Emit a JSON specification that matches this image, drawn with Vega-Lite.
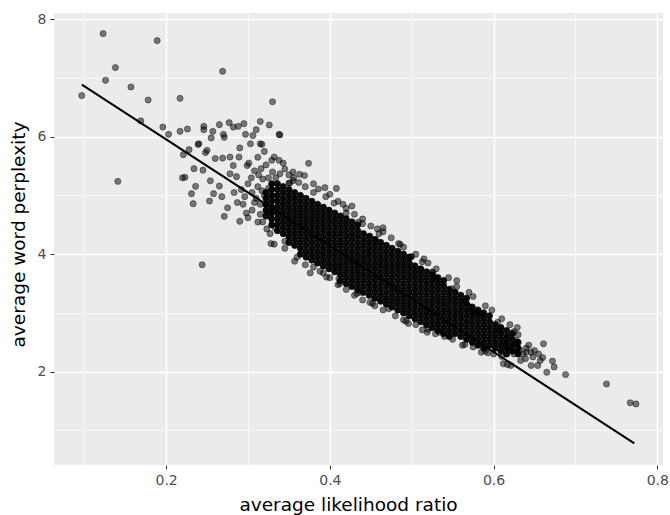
{
"$schema": "https://vega.github.io/schema/vega-lite/v6.json",
"width": 609,
"height": 452,
"autosize": {"type": "none"},
"padding": {"left": 54, "top": 13, "right": 8, "bottom": 50},
"background": "white",
"config": {
  "view": {"fill": "#EBEBEB", "stroke": null},
  "axis": {"domain": false, "grid": true, "gridColor": "#FFFFFF", "tickColor": "#333333", "tickWidth": 1, "tickSize": 4, "labelColor": "#4D4D4D", "labelFont": "DejaVu Sans", "labelFontSize": 14, "labelPadding": 4, "titleFont": "DejaVu Sans", "titleFontSize": 18.5, "titleFontWeight": "normal", "titleColor": "#000000", "labelFlush": false, "labelOverlap": false, "labelBound": false}
},
"datasets": {
"dense": [
{"x":0.322,"y":4.65},{"x":0.322,"y":4.75},{"x":0.322,"y":4.85},{"x":0.322,"y":4.95},{"x":0.322,"y":5.05},
{"x":0.329,"y":4.5},{"x":0.329,"y":4.6},{"x":0.329,"y":4.7},{"x":0.329,"y":4.8},{"x":0.329,"y":4.9},{"x":0.329,"y":5.0},{"x":0.329,"y":5.1},{"x":0.329,"y":5.2},
{"x":0.336,"y":4.4},{"x":0.336,"y":4.5},{"x":0.336,"y":4.6},{"x":0.336,"y":4.7},{"x":0.336,"y":4.8},{"x":0.336,"y":4.9},{"x":0.336,"y":5.0},{"x":0.336,"y":5.1},{"x":0.336,"y":5.2},
{"x":0.343,"y":4.35},{"x":0.343,"y":4.45},{"x":0.343,"y":4.55},{"x":0.343,"y":4.65},{"x":0.343,"y":4.75},{"x":0.343,"y":4.85},{"x":0.343,"y":4.95},{"x":0.343,"y":5.05},{"x":0.343,"y":5.15},
{"x":0.350,"y":4.2},{"x":0.350,"y":4.3},{"x":0.350,"y":4.4},{"x":0.350,"y":4.5},{"x":0.350,"y":4.6},{"x":0.350,"y":4.7},{"x":0.350,"y":4.8},{"x":0.350,"y":4.9},{"x":0.350,"y":5.0},{"x":0.350,"y":5.1},
{"x":0.357,"y":4.15},{"x":0.357,"y":4.25},{"x":0.357,"y":4.35},{"x":0.357,"y":4.45},{"x":0.357,"y":4.55},{"x":0.357,"y":4.65},{"x":0.357,"y":4.75},{"x":0.357,"y":4.85},{"x":0.357,"y":4.95},{"x":0.357,"y":5.05},
{"x":0.364,"y":4.0},{"x":0.364,"y":4.1},{"x":0.364,"y":4.2},{"x":0.364,"y":4.3},{"x":0.364,"y":4.4},{"x":0.364,"y":4.5},{"x":0.364,"y":4.6},{"x":0.364,"y":4.7},{"x":0.364,"y":4.8},{"x":0.364,"y":4.9},{"x":0.364,"y":5.0},
{"x":0.371,"y":3.95},{"x":0.371,"y":4.05},{"x":0.371,"y":4.15},{"x":0.371,"y":4.25},{"x":0.371,"y":4.35},{"x":0.371,"y":4.45},{"x":0.371,"y":4.55},{"x":0.371,"y":4.65},{"x":0.371,"y":4.75},{"x":0.371,"y":4.85},{"x":0.371,"y":4.95},
{"x":0.378,"y":3.9},{"x":0.378,"y":4.0},{"x":0.378,"y":4.1},{"x":0.378,"y":4.2},{"x":0.378,"y":4.3},{"x":0.378,"y":4.4},{"x":0.378,"y":4.5},{"x":0.378,"y":4.6},{"x":0.378,"y":4.7},{"x":0.378,"y":4.8},{"x":0.378,"y":4.9},
{"x":0.385,"y":3.85},{"x":0.385,"y":3.95},{"x":0.385,"y":4.05},{"x":0.385,"y":4.15},{"x":0.385,"y":4.25},{"x":0.385,"y":4.35},{"x":0.385,"y":4.45},{"x":0.385,"y":4.55},{"x":0.385,"y":4.65},{"x":0.385,"y":4.75},{"x":0.385,"y":4.85},
{"x":0.392,"y":3.8},{"x":0.392,"y":3.9},{"x":0.392,"y":4.0},{"x":0.392,"y":4.1},{"x":0.392,"y":4.2},{"x":0.392,"y":4.3},{"x":0.392,"y":4.4},{"x":0.392,"y":4.5},{"x":0.392,"y":4.6},{"x":0.392,"y":4.7},{"x":0.392,"y":4.8},
{"x":0.399,"y":3.75},{"x":0.399,"y":3.85},{"x":0.399,"y":3.95},{"x":0.399,"y":4.05},{"x":0.399,"y":4.15},{"x":0.399,"y":4.25},{"x":0.399,"y":4.35},{"x":0.399,"y":4.45},{"x":0.399,"y":4.55},{"x":0.399,"y":4.65},{"x":0.399,"y":4.75},
{"x":0.406,"y":3.7},{"x":0.406,"y":3.8},{"x":0.406,"y":3.9},{"x":0.406,"y":4.0},{"x":0.406,"y":4.1},{"x":0.406,"y":4.2},{"x":0.406,"y":4.3},{"x":0.406,"y":4.4},{"x":0.406,"y":4.5},{"x":0.406,"y":4.6},{"x":0.406,"y":4.7},
{"x":0.413,"y":3.55},{"x":0.413,"y":3.65},{"x":0.413,"y":3.75},{"x":0.413,"y":3.85},{"x":0.413,"y":3.95},{"x":0.413,"y":4.05},{"x":0.413,"y":4.15},{"x":0.413,"y":4.25},{"x":0.413,"y":4.35},{"x":0.413,"y":4.45},{"x":0.413,"y":4.55},{"x":0.413,"y":4.65},
{"x":0.420,"y":3.5},{"x":0.420,"y":3.6},{"x":0.420,"y":3.7},{"x":0.420,"y":3.8},{"x":0.420,"y":3.9},{"x":0.420,"y":4.0},{"x":0.420,"y":4.1},{"x":0.420,"y":4.2},{"x":0.420,"y":4.3},{"x":0.420,"y":4.4},{"x":0.420,"y":4.5},{"x":0.420,"y":4.6},
{"x":0.427,"y":3.45},{"x":0.427,"y":3.55},{"x":0.427,"y":3.65},{"x":0.427,"y":3.75},{"x":0.427,"y":3.85},{"x":0.427,"y":3.95},{"x":0.427,"y":4.05},{"x":0.427,"y":4.15},{"x":0.427,"y":4.25},{"x":0.427,"y":4.35},{"x":0.427,"y":4.45},{"x":0.427,"y":4.55},
{"x":0.434,"y":3.4},{"x":0.434,"y":3.5},{"x":0.434,"y":3.6},{"x":0.434,"y":3.7},{"x":0.434,"y":3.8},{"x":0.434,"y":3.9},{"x":0.434,"y":4.0},{"x":0.434,"y":4.1},{"x":0.434,"y":4.2},{"x":0.434,"y":4.3},{"x":0.434,"y":4.4},{"x":0.434,"y":4.5},
{"x":0.441,"y":3.35},{"x":0.441,"y":3.45},{"x":0.441,"y":3.55},{"x":0.441,"y":3.65},{"x":0.441,"y":3.75},{"x":0.441,"y":3.85},{"x":0.441,"y":3.95},{"x":0.441,"y":4.05},{"x":0.441,"y":4.15},{"x":0.441,"y":4.25},{"x":0.441,"y":4.35},
{"x":0.448,"y":3.3},{"x":0.448,"y":3.4},{"x":0.448,"y":3.5},{"x":0.448,"y":3.6},{"x":0.448,"y":3.7},{"x":0.448,"y":3.8},{"x":0.448,"y":3.9},{"x":0.448,"y":4.0},{"x":0.448,"y":4.1},{"x":0.448,"y":4.2},{"x":0.448,"y":4.3},
{"x":0.455,"y":3.25},{"x":0.455,"y":3.35},{"x":0.455,"y":3.45},{"x":0.455,"y":3.55},{"x":0.455,"y":3.65},{"x":0.455,"y":3.75},{"x":0.455,"y":3.85},{"x":0.455,"y":3.95},{"x":0.455,"y":4.05},{"x":0.455,"y":4.15},{"x":0.455,"y":4.25},
{"x":0.462,"y":3.2},{"x":0.462,"y":3.3},{"x":0.462,"y":3.4},{"x":0.462,"y":3.5},{"x":0.462,"y":3.6},{"x":0.462,"y":3.7},{"x":0.462,"y":3.8},{"x":0.462,"y":3.9},{"x":0.462,"y":4.0},{"x":0.462,"y":4.1},{"x":0.462,"y":4.2},
{"x":0.469,"y":3.15},{"x":0.469,"y":3.25},{"x":0.469,"y":3.35},{"x":0.469,"y":3.45},{"x":0.469,"y":3.55},{"x":0.469,"y":3.65},{"x":0.469,"y":3.75},{"x":0.469,"y":3.85},{"x":0.469,"y":3.95},{"x":0.469,"y":4.05},{"x":0.469,"y":4.15},
{"x":0.476,"y":3.1},{"x":0.476,"y":3.2},{"x":0.476,"y":3.3},{"x":0.476,"y":3.4},{"x":0.476,"y":3.5},{"x":0.476,"y":3.6},{"x":0.476,"y":3.7},{"x":0.476,"y":3.8},{"x":0.476,"y":3.9},{"x":0.476,"y":4.0},{"x":0.476,"y":4.1},
{"x":0.483,"y":3.05},{"x":0.483,"y":3.15},{"x":0.483,"y":3.25},{"x":0.483,"y":3.35},{"x":0.483,"y":3.45},{"x":0.483,"y":3.55},{"x":0.483,"y":3.65},{"x":0.483,"y":3.75},{"x":0.483,"y":3.85},{"x":0.483,"y":3.95},{"x":0.483,"y":4.05},
{"x":0.490,"y":3.0},{"x":0.490,"y":3.1},{"x":0.490,"y":3.2},{"x":0.490,"y":3.3},{"x":0.490,"y":3.4},{"x":0.490,"y":3.5},{"x":0.490,"y":3.6},{"x":0.490,"y":3.7},{"x":0.490,"y":3.8},{"x":0.490,"y":3.9},{"x":0.490,"y":4.0},
{"x":0.497,"y":2.95},{"x":0.497,"y":3.05},{"x":0.497,"y":3.15},{"x":0.497,"y":3.25},{"x":0.497,"y":3.35},{"x":0.497,"y":3.45},{"x":0.497,"y":3.55},{"x":0.497,"y":3.65},{"x":0.497,"y":3.75},{"x":0.497,"y":3.85},{"x":0.497,"y":3.95},
{"x":0.504,"y":2.9},{"x":0.504,"y":3.0},{"x":0.504,"y":3.1},{"x":0.504,"y":3.2},{"x":0.504,"y":3.3},{"x":0.504,"y":3.4},{"x":0.504,"y":3.5},{"x":0.504,"y":3.6},{"x":0.504,"y":3.7},{"x":0.504,"y":3.8},
{"x":0.511,"y":2.85},{"x":0.511,"y":2.95},{"x":0.511,"y":3.05},{"x":0.511,"y":3.15},{"x":0.511,"y":3.25},{"x":0.511,"y":3.35},{"x":0.511,"y":3.45},{"x":0.511,"y":3.55},{"x":0.511,"y":3.65},{"x":0.511,"y":3.75},
{"x":0.518,"y":2.8},{"x":0.518,"y":2.9},{"x":0.518,"y":3.0},{"x":0.518,"y":3.1},{"x":0.518,"y":3.2},{"x":0.518,"y":3.3},{"x":0.518,"y":3.4},{"x":0.518,"y":3.5},{"x":0.518,"y":3.6},{"x":0.518,"y":3.7},
{"x":0.525,"y":2.75},{"x":0.525,"y":2.85},{"x":0.525,"y":2.95},{"x":0.525,"y":3.05},{"x":0.525,"y":3.15},{"x":0.525,"y":3.25},{"x":0.525,"y":3.35},{"x":0.525,"y":3.45},{"x":0.525,"y":3.55},{"x":0.525,"y":3.65},
{"x":0.532,"y":2.7},{"x":0.532,"y":2.8},{"x":0.532,"y":2.9},{"x":0.532,"y":3.0},{"x":0.532,"y":3.1},{"x":0.532,"y":3.2},{"x":0.532,"y":3.3},{"x":0.532,"y":3.4},{"x":0.532,"y":3.5},{"x":0.532,"y":3.6},
{"x":0.539,"y":2.65},{"x":0.539,"y":2.75},{"x":0.539,"y":2.85},{"x":0.539,"y":2.95},{"x":0.539,"y":3.05},{"x":0.539,"y":3.15},{"x":0.539,"y":3.25},{"x":0.539,"y":3.35},{"x":0.539,"y":3.45},{"x":0.539,"y":3.55},
{"x":0.546,"y":2.6},{"x":0.546,"y":2.7},{"x":0.546,"y":2.8},{"x":0.546,"y":2.9},{"x":0.546,"y":3.0},{"x":0.546,"y":3.1},{"x":0.546,"y":3.2},{"x":0.546,"y":3.3},{"x":0.546,"y":3.4},
{"x":0.553,"y":2.65},{"x":0.553,"y":2.75},{"x":0.553,"y":2.85},{"x":0.553,"y":2.95},{"x":0.553,"y":3.05},{"x":0.553,"y":3.15},{"x":0.553,"y":3.25},{"x":0.553,"y":3.35},
{"x":0.560,"y":2.6},{"x":0.560,"y":2.7},{"x":0.560,"y":2.8},{"x":0.560,"y":2.9},{"x":0.560,"y":3.0},{"x":0.560,"y":3.1},{"x":0.560,"y":3.2},{"x":0.560,"y":3.3},
{"x":0.567,"y":2.55},{"x":0.567,"y":2.65},{"x":0.567,"y":2.75},{"x":0.567,"y":2.85},{"x":0.567,"y":2.95},{"x":0.567,"y":3.05},{"x":0.567,"y":3.15},{"x":0.567,"y":3.25},
{"x":0.574,"y":2.5},{"x":0.574,"y":2.6},{"x":0.574,"y":2.7},{"x":0.574,"y":2.8},{"x":0.574,"y":2.9},{"x":0.574,"y":3.0},{"x":0.574,"y":3.1},
{"x":0.581,"y":2.45},{"x":0.581,"y":2.55},{"x":0.581,"y":2.65},{"x":0.581,"y":2.75},{"x":0.581,"y":2.85},{"x":0.581,"y":2.95},{"x":0.581,"y":3.05},
{"x":0.588,"y":2.4},{"x":0.588,"y":2.5},{"x":0.588,"y":2.6},{"x":0.588,"y":2.7},{"x":0.588,"y":2.8},{"x":0.588,"y":2.9},{"x":0.588,"y":3.0},
{"x":0.595,"y":2.45},{"x":0.595,"y":2.55},{"x":0.595,"y":2.65},{"x":0.595,"y":2.75},{"x":0.595,"y":2.85},{"x":0.595,"y":2.95},
{"x":0.602,"y":2.4},{"x":0.602,"y":2.5},{"x":0.602,"y":2.6},{"x":0.602,"y":2.7},{"x":0.602,"y":2.8},
{"x":0.609,"y":2.35},{"x":0.609,"y":2.45},{"x":0.609,"y":2.55},{"x":0.609,"y":2.65},{"x":0.609,"y":2.75},
{"x":0.616,"y":2.3},{"x":0.616,"y":2.4},{"x":0.616,"y":2.5},{"x":0.616,"y":2.6},{"x":0.616,"y":2.7},
{"x":0.623,"y":2.35},{"x":0.623,"y":2.45},{"x":0.623,"y":2.55},{"x":0.623,"y":2.65},
{"x":0.630,"y":2.3},{"x":0.630,"y":2.4},{"x":0.630,"y":2.5}
],
"sparse": [
{"x":0.123,"y":7.756},{"x":0.189,"y":7.637},{"x":0.138,"y":7.177},{"x":0.126,"y":6.961},{"x":0.097,"y":6.700},{"x":0.157,"y":6.847},{"x":0.178,"y":6.625},{"x":0.217,"y":6.654},{"x":0.269,"y":7.114},{"x":0.330,"y":6.595},{"x":0.169,"y":6.27},{"x":0.141,"y":5.240},{"x":0.244,"y":3.82},
{"x":0.196,"y":6.165},{"x":0.203,"y":6.041},{"x":0.217,"y":6.092},{"x":0.226,"y":6.131},{"x":0.246,"y":6.177},{"x":0.246,"y":6.12},{"x":0.257,"y":6.092},{"x":0.265,"y":6.206},{"x":0.277,"y":6.240},{"x":0.282,"y":6.165},{"x":0.288,"y":6.177},{"x":0.295,"y":6.223},{"x":0.297,"y":6.041},{"x":0.270,"y":6.04},{"x":0.271,"y":5.99},{"x":0.255,"y":5.98},{"x":0.239,"y":5.87},{"x":0.250,"y":5.768},{"x":0.248,"y":5.73},{"x":0.290,"y":5.81},{"x":0.315,"y":6.26},{"x":0.317,"y":5.87},{"x":0.338,"y":6.04},{"x":0.339,"y":6.03},{"x":0.332,"y":5.654},{"x":0.338,"y":5.60},{"x":0.350,"y":5.21},
{"x":0.221,"y":5.695},{"x":0.228,"y":5.78},{"x":0.220,"y":5.30},{"x":0.223,"y":5.31},{"x":0.234,"y":5.456},{"x":0.245,"y":5.43},{"x":0.236,"y":5.155},{"x":0.231,"y":5.03},{"x":0.254,"y":5.25},{"x":0.260,"y":5.63},{"x":0.269,"y":5.637},{"x":0.278,"y":5.654},{"x":0.282,"y":5.51},{"x":0.289,"y":5.654},{"x":0.265,"y":5.16},{"x":0.258,"y":5.03},{"x":0.268,"y":4.98},{"x":0.278,"y":5.37},{"x":0.286,"y":5.32},{"x":0.299,"y":5.51},{"x":0.301,"y":5.55},{"x":0.304,"y":5.30},{"x":0.316,"y":5.456},{"x":0.339,"y":5.37},{"x":0.315,"y":5.88},{"x":0.240,"y":5.88},
{"x":0.233,"y":4.86},{"x":0.253,"y":4.905},{"x":0.271,"y":4.644},{"x":0.275,"y":4.79},{"x":0.290,"y":4.56},{"x":0.294,"y":4.85},{"x":0.312,"y":4.547},{"x":0.300,"y":4.62},{"x":0.328,"y":4.18},{"x":0.332,"y":4.17},{"x":0.357,"y":3.88},{"x":0.376,"y":3.68},{"x":0.388,"y":3.71},{"x":0.396,"y":3.61},
{"x":0.374,"y":5.547},{"x":0.363,"y":5.36},{"x":0.369,"y":5.34},{"x":0.386,"y":5.11},{"x":0.394,"y":5.133},{"x":0.408,"y":5.12},{"x":0.416,"y":4.85},{"x":0.351,"y":5.21},{"x":0.405,"y":4.87},{"x":0.427,"y":4.82},{"x":0.435,"y":4.547},{"x":0.458,"y":4.43},{"x":0.460,"y":4.35},{"x":0.484,"y":4.18},{"x":0.449,"y":4.31},{"x":0.456,"y":4.25},{"x":0.499,"y":3.95},{"x":0.513,"y":3.87},{"x":0.511,"y":3.74},{"x":0.525,"y":3.70},{"x":0.527,"y":3.61},
{"x":0.412,"y":3.50},{"x":0.437,"y":3.35},{"x":0.452,"y":3.16},{"x":0.472,"y":3.07},{"x":0.323,"y":4.43},{"x":0.327,"y":4.35},{"x":0.333,"y":4.45},{"x":0.486,"y":4.167},{"x":0.500,"y":3.96},{"x":0.526,"y":3.685},{"x":0.529,"y":3.58},{"x":0.539,"y":3.48},{"x":0.555,"y":3.55},{"x":0.549,"y":3.41},{"x":0.566,"y":3.20},{"x":0.570,"y":3.11},{"x":0.577,"y":3.00},{"x":0.586,"y":2.975},{"x":0.605,"y":2.84},{"x":0.607,"y":2.71},{"x":0.629,"y":2.75},{"x":0.630,"y":2.63},{"x":0.617,"y":2.57},{"x":0.626,"y":2.475},
{"x":0.661,"y":2.475},{"x":0.646,"y":2.33},{"x":0.648,"y":2.25},{"x":0.639,"y":2.22},{"x":0.657,"y":2.19},{"x":0.672,"y":2.18},{"x":0.674,"y":2.08},{"x":0.665,"y":1.99},{"x":0.688,"y":1.95},{"x":0.646,"y":2.105},{"x":0.654,"y":2.105},{"x":0.617,"y":2.12},{"x":0.496,"y":2.82},{"x":0.519,"y":2.67},{"x":0.529,"y":2.645},{"x":0.534,"y":2.67},{"x":0.562,"y":2.45},{"x":0.585,"y":2.33},{"x":0.593,"y":2.32},{"x":0.513,"y":2.71},{"x":0.493,"y":2.86},{"x":0.738,"y":1.79},{"x":0.767,"y":1.47},{"x":0.774,"y":1.45},
{"x":0.411,"y":3.58},{"x":0.433,"y":3.33},{"x":0.449,"y":3.18},{"x":0.612,"y":2.135},{"x":0.621,"y":2.105},{"x":0.633,"y":2.19},
{"x":0.640,"y":2.40},{"x":0.636,"y":2.30},{"x":0.643,"y":2.45},{"x":0.650,"y":2.36},{"x":0.625,"y":2.30},{"x":0.632,"y":2.37},{"x":0.655,"y":2.30},{"x":0.660,"y":2.24},{"x":0.640,"y":2.33},{"x":0.613,"y":2.45},{"x":0.620,"y":2.40},{"x":0.628,"y":2.52},
{"x":0.300,"y":5.20},{"x":0.305,"y":5.05},{"x":0.310,"y":4.95},{"x":0.312,"y":5.15},{"x":0.318,"y":5.28},{"x":0.320,"y":5.00},{"x":0.322,"y":4.85},{"x":0.325,"y":5.12},{"x":0.327,"y":4.72},{"x":0.330,"y":5.40},{"x":0.331,"y":4.98},{"x":0.334,"y":5.30},{"x":0.296,"y":4.98},{"x":0.292,"y":5.10},{"x":0.287,"y":4.88},{"x":0.283,"y":5.05},{"x":0.305,"y":4.75},{"x":0.315,"y":4.68},{"x":0.298,"y":4.70},{"x":0.308,"y":5.42},{"x":0.322,"y":5.52},{"x":0.345,"y":5.45},{"x":0.350,"y":5.35},{"x":0.356,"y":5.30},{"x":0.362,"y":5.22},{"x":0.343,"y":5.55},{"x":0.329,"y":5.60},{"x":0.312,"y":5.65},{"x":0.320,"y":5.75},{"x":0.303,"y":5.88},{"x":0.310,"y":6.12},{"x":0.326,"y":6.20},{"x":0.306,"y":6.02},
{"x":0.315,"y":4.85},{"x":0.318,"y":4.55},{"x":0.313,"y":5.35},{"x":0.308,"y":4.88},{"x":0.325,"y":5.30},{"x":0.317,"y":5.08},
{"x":0.355,"y":5.25},{"x":0.355,"y":5.40},{"x":0.370,"y":5.15},{"x":0.380,"y":5.05},{"x":0.380,"y":5.20},{"x":0.395,"y":4.98},{"x":0.400,"y":5.02},{"x":0.410,"y":4.90},{"x":0.420,"y":4.78},{"x":0.420,"y":4.70},{"x":0.430,"y":4.68},{"x":0.440,"y":4.60},{"x":0.440,"y":4.52},{"x":0.450,"y":4.48},{"x":0.465,"y":4.38},{"x":0.465,"y":4.45},{"x":0.475,"y":4.28},{"x":0.490,"y":4.12},{"x":0.505,"y":4.00},{"x":0.515,"y":3.92},{"x":0.520,"y":3.85},{"x":0.530,"y":3.75},{"x":0.545,"y":3.60},{"x":0.555,"y":3.45},{"x":0.570,"y":3.35},{"x":0.575,"y":3.28},{"x":0.590,"y":3.12},{"x":0.598,"y":3.05},{"x":0.610,"y":2.90},{"x":0.620,"y":2.80},{"x":0.625,"y":2.68},
{"x":0.345,"y":4.22},{"x":0.345,"y":4.10},{"x":0.360,"y":3.95},{"x":0.370,"y":3.82},{"x":0.380,"y":3.78},{"x":0.392,"y":3.68},{"x":0.400,"y":3.60},{"x":0.410,"y":3.48},{"x":0.420,"y":3.40},{"x":0.430,"y":3.30},{"x":0.440,"y":3.22},{"x":0.455,"y":3.12},{"x":0.465,"y":3.05},{"x":0.480,"y":2.95},{"x":0.490,"y":2.88},{"x":0.505,"y":2.80},{"x":0.520,"y":2.72},{"x":0.540,"y":2.60},{"x":0.550,"y":2.55},{"x":0.565,"y":2.46},{"x":0.575,"y":2.42},{"x":0.590,"y":2.35},{"x":0.600,"y":2.30},{"x":0.610,"y":2.26}
],
"fit": [{"x":0.097,"y":6.887},{"x":0.772,"y":0.779}]
},
"encoding": {
  "x": {"field": "x", "type": "quantitative", "scale": {"domain": [0.063, 0.807], "nice": false, "zero": false},
    "axis": {"title": "average likelihood ratio", "values": [0.1,0.2,0.3,0.4,0.5,0.6,0.7,0.8],
      "labelExpr": "round(datum.value*10)%2==0 ? format(datum.value,'.1f') : ''",
      "gridWidth": {"condition": {"test": "round(datum.value*10)%2==1", "value": 0.7}, "value": 1.4},
      "tickOpacity": {"condition": {"test": "round(datum.value*10)%2==1", "value": 0}, "value": 1},
      "titleX": 294, "titleY": 45, "titleAlign": "center", "titleBaseline": "alphabetic"}},
  "y": {"field": "y", "type": "quantitative", "scale": {"domain": [0.41, 8.107], "nice": false, "zero": false},
    "axis": {"title": "average word perplexity", "values": [1,2,3,4,5,6,7,8],
      "labelExpr": "datum.value%2==0 ? format(datum.value,'d') : ''",
      "gridWidth": {"condition": {"test": "datum.value%2==1", "value": 0.7}, "value": 1.4},
      "tickOpacity": {"condition": {"test": "datum.value%2==1", "value": 0}, "value": 1},
      "titleX": -30, "titleY": 221, "titleAngle": -90, "titleAlign": "center", "titleBaseline": "alphabetic"}}
},
"layer": [
  {"data": {"name": "dense"}, "mark": {"type": "point", "shape": "circle", "filled": true, "size": 38, "color": "#000000", "fillOpacity": 0.96, "stroke": "#000000", "strokeWidth": 0.8, "strokeOpacity": 0.96}},
  {"data": {"name": "sparse"}, "mark": {"type": "point", "shape": "circle", "filled": true, "size": 38, "color": "#000000", "fillOpacity": 0.5, "stroke": "#000000", "strokeWidth": 0.8, "strokeOpacity": 0.5}},
  {"data": {"name": "fit"}, "mark": {"type": "line", "color": "#000000", "strokeWidth": 2}}
]
}
